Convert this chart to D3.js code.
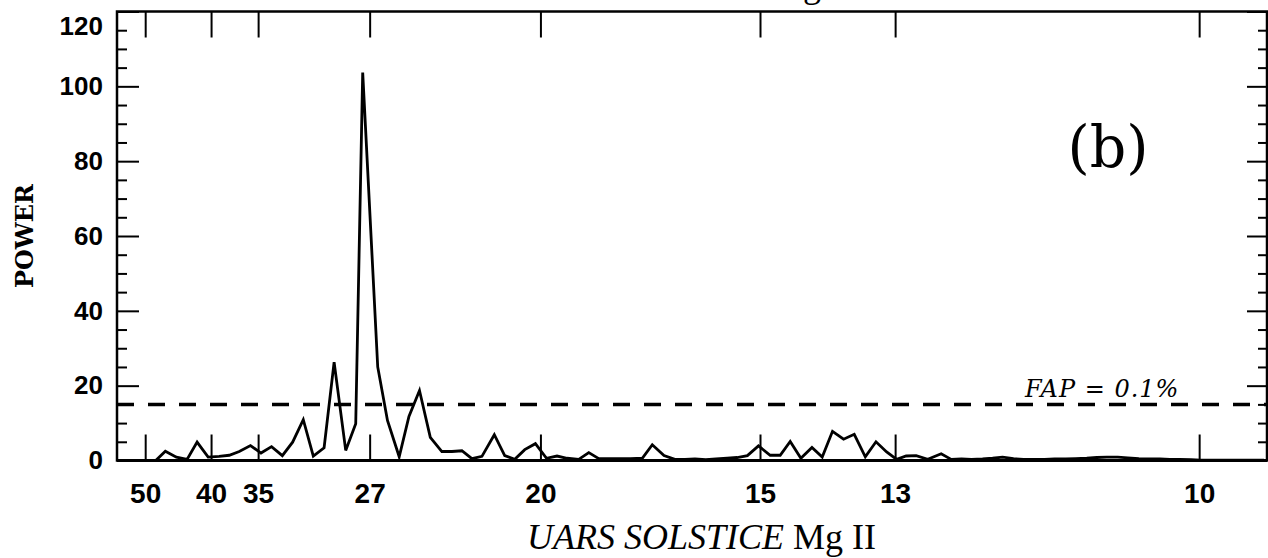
<!DOCTYPE html>
<html>
<head>
<meta charset="UTF-8">
<title>UARS SOLSTICE Mg II periodogram</title>
<script src="https://cdn.jsdelivr.net/npm/d3@7"></script>
<style>
body { margin: 0; background: #fff; }
svg { display: block; }
.ylab text { font-family: "Liberation Sans", Arial, sans-serif; font-weight: bold; font-size: 26px; fill: #000; }
.xlab text { font-family: "Liberation Sans", Arial, sans-serif; font-weight: bold; font-size: 28px; fill: #000; }
.tick line { stroke: #000; stroke-width: 2px; }
</style>
</head>
<body>
<div id="chart"></div>
<script>
/*global d3*/

// frequency in cycles per day (axis is labelled in period, days)
var freq = [
  0.01989, 0.02080, 0.02153, 0.02237, 0.02318, 0.02394, 0.02478, 0.02561, 0.02638, 0.02714,
  0.02799, 0.02879, 0.02959, 0.03041, 0.03119, 0.03200, 0.03276, 0.03358, 0.03434, 0.03522,
  0.03598, 0.03651, 0.03765, 0.03839, 0.03928, 0.04002, 0.04082, 0.04164, 0.04252, 0.04328,
  0.04404, 0.04480, 0.04556, 0.04650, 0.04729, 0.04805, 0.04881, 0.04962, 0.05046, 0.05126,
  0.05202, 0.05291, 0.05367, 0.05443, 0.05519, 0.05595, 0.05684, 0.05773, 0.05849, 0.05938,
  0.06021, 0.06097, 0.06173, 0.06255, 0.06333, 0.06417, 0.06493, 0.06571, 0.06655, 0.06744,
  0.06820, 0.06896, 0.06977, 0.07061, 0.07139, 0.07217, 0.07301, 0.07382, 0.07466, 0.07547,
  0.07628, 0.07704, 0.07776, 0.07852, 0.07940, 0.08042, 0.08118, 0.08196, 0.08272, 0.08356,
  0.08432, 0.08508, 0.08591, 0.08667, 0.08751, 0.08827, 0.08903, 0.08987, 0.09063, 0.09147,
  0.09223, 0.09299, 0.09382, 0.09458, 0.09542, 0.09618, 0.09702, 0.09778, 0.09854, 0.09937,
  0.10013, 0.10097, 0.10173, 0.10249, 0.10333, 0.10409, 0.10492
];
var power = [
  0.0, 0.0, 2.5, 0.9, 0.3, 4.9, 0.9, 1.1, 1.4, 2.4,
  4.0, 2.0, 3.7, 1.3, 4.9, 10.9, 1.2, 3.4, 26.3, 2.7,
  9.8, 103.7, 25.0, 10.7, 1.0, 11.8, 18.7, 6.2, 2.4, 2.4,
  2.6, 0.5, 1.1, 6.9, 1.3, 0.3, 2.9, 4.5, 0.6, 1.2,
  0.6, 0.3, 2.1, 0.5, 0.5, 0.5, 0.5, 0.6, 4.2, 1.3,
  0.3, 0.3, 0.4, 0.2, 0.4, 0.6, 0.8, 1.3, 3.9, 1.4,
  1.4, 5.1, 0.6, 3.5, 0.9, 7.8, 5.7, 7.0, 1.0, 5.0,
  2.3, 0.3, 1.2, 1.3, 0.3, 1.8, 0.3, 0.4, 0.3, 0.4,
  0.6, 0.9, 0.5, 0.3, 0.3, 0.3, 0.4, 0.4, 0.5, 0.6,
  0.8, 0.9, 0.9, 0.7, 0.5, 0.4, 0.4, 0.3, 0.3, 0.2,
  0.1, 0.1, 0.1, 0.1, 0.1, 0.1, 0.1
];
var periodTicks = [50, 40, 35, 27, 20, 15, 13, 10];
var powerMajor = [0, 20, 40, 60, 80, 100, 120];
var powerMinor = [5, 10, 15, 25, 30, 35, 45, 50, 55, 65, 70, 75, 85, 90, 95, 105, 110, 115];
var fapLevel = 15;
var fapLabel = "FAP = 0.1%";
var panelLabel = "(b)";
var xTitleItalic = "UARS SOLSTICE";
var xTitleRoman = " Mg II";
var yTitle = "POWER";

var width = 1268, height = 558;
var plotL = 117, plotR = 1267, plotT = 11.5, plotB = 460.5;

var svg = d3.select("#chart").append("svg")
  .attr("width", width)
  .attr("height", height);

var x = d3.scaleLinear().domain([0.01786, 0.10515]).range([plotL, plotR]);
var y = d3.scaleLinear().domain([0, 120]).range([plotB, plotT]);

// frame
svg.append("rect")
  .attr("x", plotL).attr("y", plotT)
  .attr("width", plotR - plotL).attr("height", plotB - plotT)
  .attr("fill", "none").attr("stroke", "#000").attr("stroke-width", 2.5);

// y axis, left (ticks inward)
svg.append("g").attr("class", "ylab")
  .attr("transform", "translate(" + plotL + ",0)")
  .call(d3.axisLeft(y).tickValues(powerMajor).tickSize(-22).tickPadding(14).tickFormat(d3.format("d")))
  .call(function (g) { g.select(".domain").remove(); })
  .call(function (g) {
    g.selectAll(".tick text").filter(function (d) { return d === 120; }).attr("dy", "0.9em");
  });
svg.append("g")
  .attr("transform", "translate(" + plotL + ",0)")
  .call(d3.axisLeft(y).tickValues(powerMinor).tickSize(-10).tickFormat(""))
  .call(function (g) { g.select(".domain").remove(); });

// y axis, right (ticks inward, no labels)
svg.append("g")
  .attr("transform", "translate(" + plotR + ",0)")
  .call(d3.axisRight(y).tickValues(powerMajor).tickSize(-20).tickFormat(""))
  .call(function (g) { g.select(".domain").remove(); });
svg.append("g")
  .attr("transform", "translate(" + plotR + ",0)")
  .call(d3.axisRight(y).tickValues(powerMinor).tickSize(-9).tickFormat(""))
  .call(function (g) { g.select(".domain").remove(); });

// x axis, bottom: positions in frequency, labels in period (days)
svg.append("g").attr("class", "xlab")
  .attr("transform", "translate(0," + plotB + ")")
  .call(d3.axisBottom(x)
    .tickValues(periodTicks.map(function (p) { return 1 / p; }))
    .tickSize(-26).tickPadding(23)
    .tickFormat(function (f) { return Math.round(1 / f); }))
  .call(function (g) { g.select(".domain").remove(); });

// x axis, top
svg.append("g")
  .attr("transform", "translate(0," + plotT + ")")
  .call(d3.axisTop(x)
    .tickValues(periodTicks.map(function (p) { return 1 / p; }))
    .tickSize(-26).tickFormat(""))
  .call(function (g) { g.select(".domain").remove(); });

// bottom axis line drawn a bit heavier
svg.append("line")
  .attr("x1", plotL).attr("x2", plotR)
  .attr("y1", plotB).attr("y2", plotB)
  .attr("stroke", "#000").attr("stroke-width", 3);

// FAP level
svg.append("line")
  .attr("x1", plotL).attr("x2", plotR)
  .attr("y1", y(fapLevel)).attr("y2", y(fapLevel))
  .attr("stroke", "#000").attr("stroke-width", 3.5)
  .attr("stroke-dasharray", "17,14");

svg.append("text")
  .attr("x", 1025).attr("y", y(fapLevel) - 7)
  .attr("font-family", "'DejaVu Serif', serif")
  .attr("font-style", "italic")
  .attr("font-size", 24)
  .attr("letter-spacing", 1)
  .text(fapLabel);

// periodogram
var line = d3.line()
  .x(function (d) { return x(d[0]); })
  .y(function (d) { return y(d[1]); });

svg.append("path")
  .datum(d3.zip(freq, power))
  .attr("d", line)
  .attr("fill", "none")
  .attr("stroke", "#000")
  .attr("stroke-width", 2.8)
  .attr("stroke-linejoin", "miter");

// panel label
svg.append("text")
  .attr("x", 1108).attr("y", 167)
  .attr("text-anchor", "middle")
  .attr("font-family", "'DejaVu Serif', serif")
  .attr("font-size", 57)
  .text(panelLabel);

// y title
svg.append("text")
  .attr("transform", "translate(33," + ((plotT + plotB) / 2) + ") rotate(-90)")
  .attr("text-anchor", "middle")
  .attr("font-family", "'DejaVu Serif', serif")
  .attr("font-weight", "bold")
  .attr("font-size", 24)
  .text(yTitle);

// x title
function addTitle(sel, tx, ty) {
  var t = sel.append("text")
    .attr("x", tx).attr("y", ty)
    .attr("font-family", "'Liberation Serif', serif")
    .attr("font-size", 36);
  t.append("tspan").attr("font-style", "italic").text(xTitleItalic);
  t.append("tspan").text(xTitleRoman);
  return t;
}
addTitle(svg, 527, 549);
// plot title, cut off by the top of the page
addTitle(svg, 505, -3);
</script>
</body>
</html>
